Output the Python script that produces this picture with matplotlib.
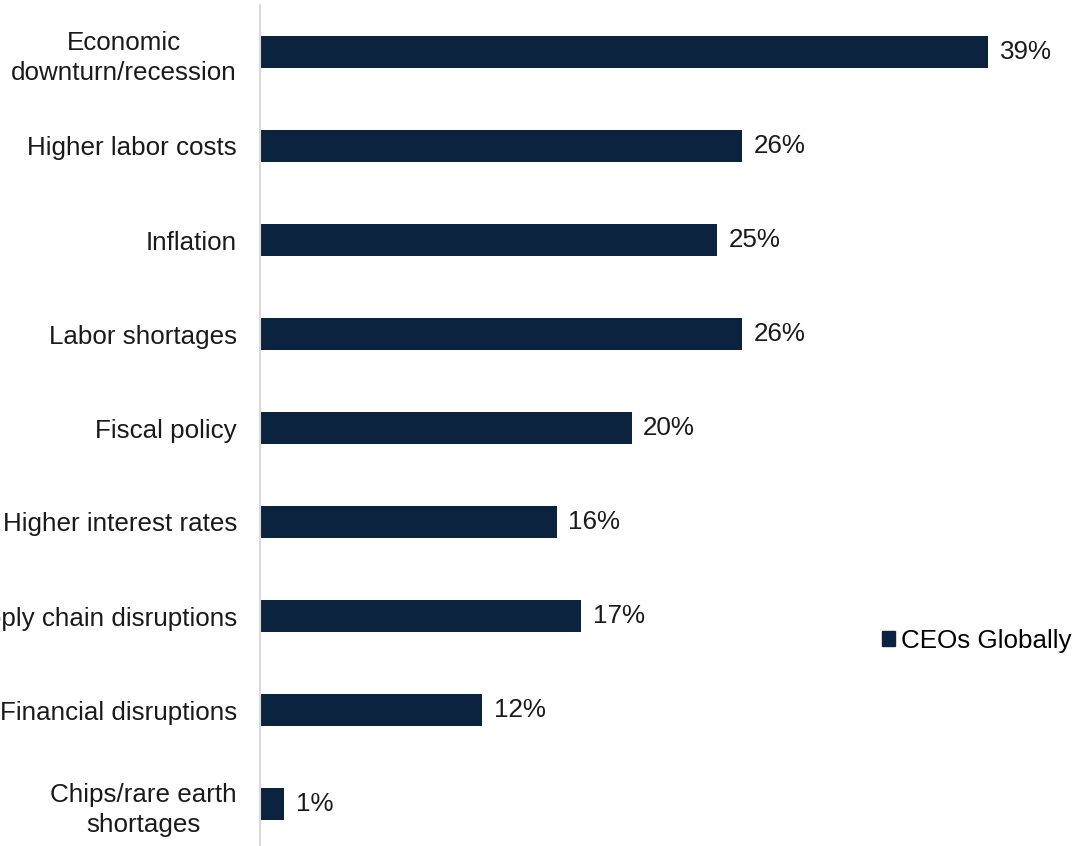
import matplotlib
matplotlib.use("Agg")
import matplotlib.pyplot as plt
from matplotlib.patches import Patch

categories = ["Economic\ndownturn/recession", "Higher labor costs", "Inflation",
              "Labor shortages", "Fiscal policy", "Higher interest rates",
              "Supply chain disruptions", "Financial disruptions",
              "Chips/rare earth\nshortages"]
values = [39.0, 25.8, 24.5, 25.8, 19.9, 15.9, 17.2, 11.9, 1.3]
value_labels = ["39%", "26%", "25%", "26%", "20%", "16%", "17%", "12%", "1%"]
series_name = "CEOs Globally"

plt.rcParams['font.family'] = ['Liberation Sans', 'DejaVu Sans']
W, H = 1074, 846
FS = 18.7
fig = plt.figure(figsize=(W/100, H/100), dpi=100)
ax = fig.add_axes([260/W, -5/H, (W-260)/W, 846/H])
color = "#0C2340"
y = list(range(len(categories)))
ax.barh(y, values, height=0.34, color=color)
ax.set_ylim(len(categories)-0.5, -0.5)
ax.set_xlim(0, (W-260)/18.67)
for yi, v, lab in zip(y, values, value_labels):
    ax.text(v + 0.62, yi, lab, va='center', ha='left', fontsize=FS, color='#1a1a1a')
ax.set_yticks(y)
ax.set_yticklabels(categories, fontsize=FS, color='#1a1a1a', multialignment='center',
                   linespacing=1.35)
ax.tick_params(axis='y', length=0, pad=16.5)
ax.set_xticks([])
for s in ['top', 'right', 'bottom']:
    ax.spines[s].set_visible(False)
ax.spines['left'].set_color('#d9d9d9')
ax.spines['left'].set_linewidth(1.5)

fig.legend(handles=[Patch(color=color, label=series_name)], loc='center left',
           bbox_to_anchor=(882/W, 1-641/H), frameon=False, fontsize=FS,
           handlelength=0.5, handleheight=0.5, handletextpad=0.25, borderpad=0,
           borderaxespad=0)
fig.savefig("out.png", dpi=100)
